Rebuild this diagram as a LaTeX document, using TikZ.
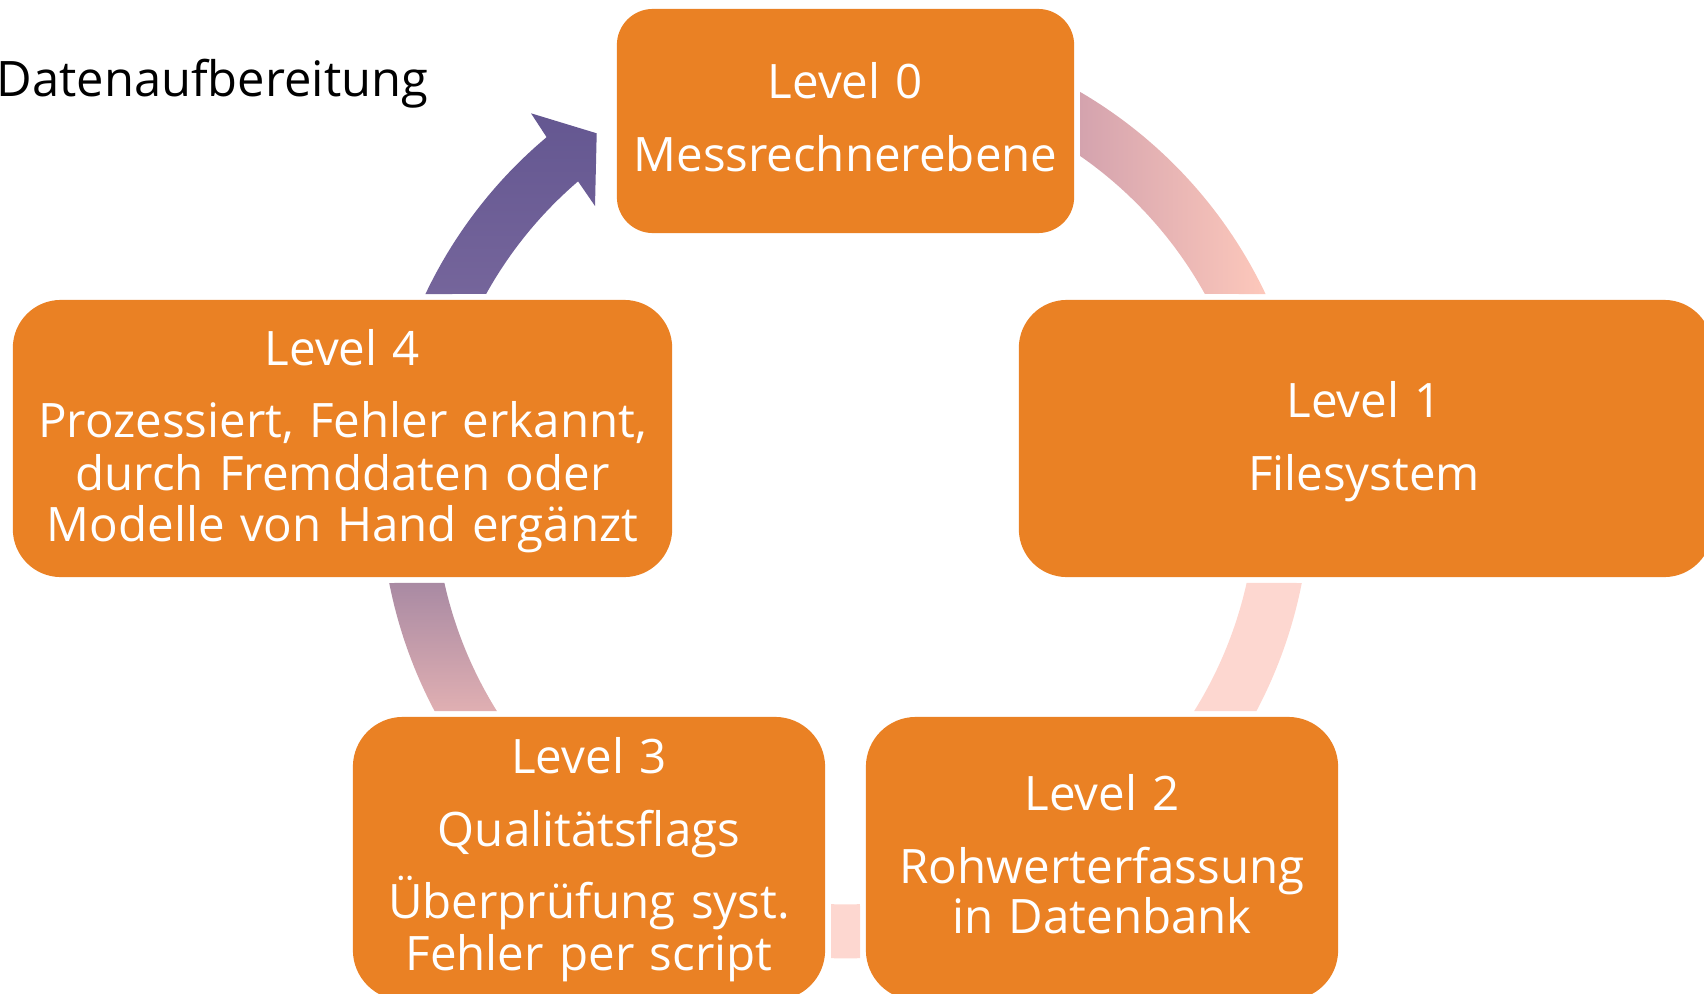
\documentclass[tikz,border=0pt]{standalone}
\usepackage{fontspec}
\setmainfont{Open Sans}[WordSpace=1.25]
\usetikzlibrary{calc}

\definecolor{boxorange}{RGB}{234,129,36}
\definecolor{purpleA}{RGB}{100,87,145}
\definecolor{purpleB}{RGB}{117,101,155}
\definecolor{dustyA}{RGB}{212,163,174}
\definecolor{dustyM}{RGB}{249,195,185}
\definecolor{salmonB}{RGB}{253,200,187}
\definecolor{paleRose}{RGB}{253,215,208}
\definecolor{mauveA}{RGB}{169,138,163}
\definecolor{mauveB}{RGB}{224,175,178}

\newcommand\lvlfont{\fontsize{13.5pt}{15pt}\selectfont}
\newcommand\headfont{\fontsize{13.9pt}{16pt}\selectfont}

\begin{document}
\begin{tikzpicture}[x=0.01cm, y=0.01cm,
  box/.style={fill=boxorange, rounded corners=#1, inner sep=0pt, outer sep=0pt},
  box/.default=0.48cm,
  lbl/.style={anchor=base, text=white, font=\lvlfont, inner sep=0pt},
  band/.style={draw=none}]
\useasboundingbox (0,0) rectangle (1704,993);
\clip (0,0) rectangle (1704,993);

% centre of the cycle
\coordinate (C) at (845.5,499.6);

% curved bands between the levels (outer radius 465, inner radius 411)
% Level 4 -> Level 0, with arrow head
\shade[band, top color=purpleA, bottom color=purpleB]
  ($(C)+(154.61:465)$) arc[start angle=154.61, end angle=130, radius=465]
  -- (531,879.7) -- (596.7,859.7) -- (595,787)
  -- ($(C)+(130.6:411)$) arc[start angle=130.6, end angle=150.97, radius=411]
  -- cycle;
% Level 0 -> Level 1
\shade[band, left color=dustyA, middle color=dustyM, right color=salmonB]
  ($(C)+(59.71:465)$) arc[start angle=59.71, end angle=25.39, radius=465]
  -- ($(C)+(29.03:411)$) arc[start angle=29.03, end angle=55.21, radius=411]
  -- cycle;
% Level 1 -> Level 2
\fill[band, paleRose]
  ($(C)+(-11.11:465)$) arc[start angle=-11.11, end angle=-27.91, radius=465]
  -- ($(C)+(-31.97:411)$) arc[start angle=-31.97, end angle=-12.59, radius=411]
  -- cycle;
% Level 2 -> Level 3
\fill[band, paleRose]
  ($(C)+(-88.21:465)$) arc[start angle=-88.21, end angle=-91.79, radius=465]
  -- ($(C)+(-92.02:411)$) arc[start angle=-92.02, end angle=-87.98, radius=411]
  -- cycle;
% Level 3 -> Level 4
\shade[band, top color=mauveA, bottom color=mauveB]
  ($(C)+(207.91:465)$) arc[start angle=207.91, end angle=191.11, radius=465]
  -- ($(C)+(192.59:411)$) arc[start angle=192.59, end angle=211.97, radius=411]
  -- cycle;

% level boxes
\node[box=0.36cm, minimum width=4.57cm, minimum height=2.24cm] (L0) at (845.5,872) {};
\node[box, minimum width=6.93cm, minimum height=2.77cm] (L1) at (1365.5,554.5) {};
\node[box=0.5cm, minimum width=4.72cm, minimum height=2.83cm] (L2) at (1102,134.5) {};
\node[box=0.5cm, minimum width=4.72cm, minimum height=2.83cm] (L3) at (589,134.5) {};
\node[box, minimum width=6.59cm, minimum height=2.77cm] (L4) at (342.5,554.5) {};

% box texts
\node[lbl] (t0a) at (845.5,894.1) {Level 0};
\node[lbl] (t0b) at (845.5,821.3) {Messrechnerebene};

\node[lbl] (t1a) at (1364,575.7) {Level 1};
\node[lbl] (t1b) at (1364,502.9) {Filesystem};

\node[lbl] (t2a) at (1102,182.3) {Level 2};
\node[lbl] (t2b) at (1102,109.5) {Rohwerterfassung};
\node[lbl] (t2c) at (1102,59.5) {in Datenbank};

\node[lbl] (t3a) at (589,219.3) {Level 3};
\node[lbl] (t3b) at (589,146.5) {Qualitätsflags};
\node[lbl] (t3c) at (589,74.7) {Überprüfung syst.};
\node[lbl] (t3d) at (589,22.6) {Fehler per script};

\node[lbl] (t4a) at (342.5,627.9) {Level 4};
\node[lbl] (t4b) at (342.5,555.1) {Prozessiert, Fehler erkannt,};
\node[lbl] (t4c) at (342.5,502.9) {durch Fremddaten oder};
\node[lbl] (t4d) at (342.5,451.8) {Modelle von Hand ergänzt};

% heading
\node[anchor=base west, inner sep=0pt, font=\headfont, text=black] (title) at (-4,896.3) {Datenaufbereitung};
\end{tikzpicture}
\end{document}
